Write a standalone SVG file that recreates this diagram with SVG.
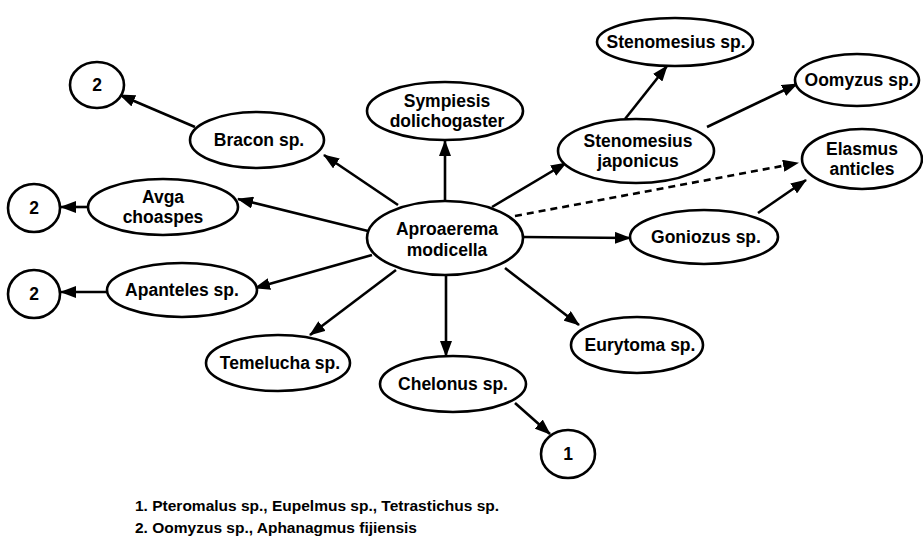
<svg xmlns="http://www.w3.org/2000/svg" width="923" height="555" viewBox="0 0 923 555">
<style>
.n{fill:#fff;stroke:#000;stroke-width:2.6}
.t{font-family:"Liberation Sans",Arial,sans-serif;font-weight:bold;font-size:17.5px;text-anchor:middle;fill:#000}
.e{stroke:#000;stroke-width:2.6;fill:none;marker-end:url(#a)}
.d{stroke-dasharray:7,5}
.l{font-family:"Liberation Sans",Arial,sans-serif;font-weight:bold;font-size:15.5px;fill:#000}
</style>
<defs>
<marker id="a" markerUnits="userSpaceOnUse" markerWidth="16" markerHeight="12" refX="15" refY="6" orient="auto">
<path d="M0,0 L16,6 L0,12 z" fill="#000"/>
</marker>
</defs>
<rect width="923" height="555" fill="#fff"/>
<g id="connectors">
<line class="e" x1="195" y1="127" x2="120" y2="95"/>
<line class="e" x1="398" y1="205" x2="324" y2="155"/>
<line class="e" x1="445" y1="200" x2="445" y2="141"/>
<line class="e" x1="368" y1="231" x2="238" y2="199"/>
<line class="e" x1="88" y1="207" x2="61" y2="207"/>
<line class="e" x1="372" y1="255" x2="255" y2="288"/>
<line class="e" x1="107" y1="292" x2="61" y2="292"/>
<line class="e" x1="396" y1="270" x2="310" y2="335"/>
<line class="e" x1="446" y1="276" x2="446" y2="356"/>
<line class="e" x1="515" y1="403" x2="550" y2="434"/>
<line class="e" x1="505" y1="268" x2="579" y2="325"/>
<line class="e" x1="523" y1="237" x2="630" y2="238"/>
<line class="e" x1="492" y1="207" x2="566" y2="163"/>
<line class="e d" x1="515" y1="216" x2="798" y2="163"/>
<line class="e" x1="625" y1="119" x2="667" y2="66"/>
<line class="e" x1="707" y1="127" x2="797" y2="84"/>
<line class="e" x1="758" y1="213" x2="806" y2="180"/>
</g>
<g id="n_aproaerema"><ellipse class="n" cx="445" cy="238" rx="78" ry="37"/><text class="t" x="447" y="235">Aproaerema</text><text class="t" x="447" y="256">modicella</text></g>
<g id="n_sympiesis"><ellipse class="n" cx="445" cy="111" rx="78" ry="29"/><text class="t" x="447" y="107">Sympiesis</text><text class="t" x="447" y="127">dolichogaster</text></g>
<g id="n_bracon"><ellipse class="n" cx="257" cy="140" rx="67" ry="28"/><text class="t" x="259" y="146">Bracon sp.</text></g>
<g id="n_2a"><ellipse class="n" cx="97" cy="85" rx="27" ry="23"/><text class="t" x="97" y="91">2</text></g>
<g id="n_avga"><ellipse class="n" cx="163" cy="207" rx="75" ry="28"/><text class="t" x="163" y="203">Avga</text><text class="t" x="163" y="223">choaspes</text></g>
<g id="n_2b"><ellipse class="n" cx="34" cy="208" rx="26" ry="24"/><text class="t" x="34" y="214">2</text></g>
<g id="n_apanteles"><ellipse class="n" cx="182" cy="290" rx="75" ry="27"/><text class="t" x="182" y="296">Apanteles sp.</text></g>
<g id="n_2c"><ellipse class="n" cx="34" cy="294" rx="26" ry="24"/><text class="t" x="34" y="300">2</text></g>
<g id="n_temelucha"><ellipse class="n" cx="278" cy="363" rx="72" ry="28"/><text class="t" x="280" y="369">Temelucha sp.</text></g>
<g id="n_chelonus"><ellipse class="n" cx="453" cy="384" rx="73" ry="28"/><text class="t" x="453" y="390">Chelonus sp.</text></g>
<g id="n_1"><ellipse class="n" cx="568" cy="454" rx="27" ry="24"/><text class="t" x="568" y="460">1</text></g>
<g id="n_eurytoma"><ellipse class="n" cx="637" cy="345" rx="66" ry="28"/><text class="t" x="640" y="351">Eurytoma sp.</text></g>
<g id="n_goniozus"><ellipse class="n" cx="704" cy="237" rx="74" ry="27"/><text class="t" x="706" y="243">Goniozus sp.</text></g>
<g id="n_elasmus"><ellipse class="n" cx="862" cy="159" rx="60" ry="30"/><text class="t" x="862" y="155">Elasmus</text><text class="t" x="862" y="175">anticles</text></g>
<g id="n_oomyzus"><ellipse class="n" cx="857" cy="80" rx="62" ry="26"/><text class="t" x="859" y="86">Oomyzus sp.</text></g>
<g id="n_stenosp"><ellipse class="n" cx="675" cy="42" rx="78" ry="24"/><text class="t" x="676" y="48">Stenomesius sp.</text></g>
<g id="n_stenojap"><ellipse class="n" cx="636" cy="151" rx="78" ry="32"/><text class="t" x="638" y="147">Stenomesius</text><text class="t" x="638" y="167">japonicus</text></g>
<g id="legend">
<text class="l" x="135" y="511">1. Pteromalus sp., Eupelmus sp., Tetrastichus sp.</text>
<text class="l" x="135" y="533">2. Oomyzus sp., Aphanagmus fijiensis</text>
</g>
</svg>
